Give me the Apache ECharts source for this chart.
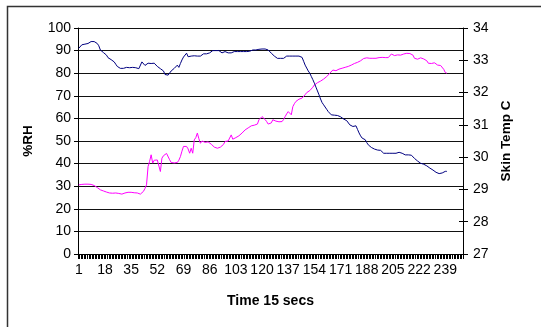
<!DOCTYPE html>
<html>
<head>
<meta charset="utf-8">
<script src="https://cdn.jsdelivr.net/npm/echarts@6/dist/echarts.min.js"></script>
<style>html,body{margin:0;padding:0;background:#fff}#c{width:541px;height:327px}</style>
</head>
<body>
<div id="c"></div>
<script>
// Category labels: time steps 1..250
const categories = Array.from({length: 250}, (_, i) => String(i + 1));
const rhTicks = [0, 10, 20, 30, 40, 50, 60, 70, 80, 90, 100];
const tempTicks = [27, 28, 29, 30, 31, 32, 33, 34];

// %RH (magenta, left axis)
const rhValues = [
30.6,30.4,30.8,30.9,30.9,31.0,30.9,31.0,30.8,30.7,
30.3,29.9,29.4,29.0,28.4,28.1,27.9,27.6,27.4,27.2,
27.0,26.7,26.9,27.1,27.0,27.0,26.8,26.6,26.5,26.6,
27.0,27.7,27.3,27.2,27.3,27.2,27.1,27.3,27.0,26.9,
26.5,27.0,27.7,29.0,30.6,38.7,41.0,43.9,40.2,41.5,
41.4,41.6,41.7,36.5,42.4,43.5,44.3,44.5,44.6,41.7,
40.5,39.9,40.3,40.8,40.5,41.5,43.1,45.5,47.6,47.8,
47.6,46.5,44.6,46.8,44.6,50.5,51.5,53.5,51.0,49.0,
50.0,50.2,49.4,48.7,49.6,49.3,48.6,47.9,47.3,47.0,
46.8,47.2,47.3,47.6,48.5,49.8,49.8,50.0,49.6,52.7,
50.8,51.2,51.5,52.0,52.3,52.7,53.5,54.2,54.9,55.6,
55.8,56.2,56.7,56.8,57.0,57.1,57.5,59.4,60.0,60.8,
60.2,59.5,58.6,57.5,56.7,58.0,59.4,59.0,58.8,58.2,
58.5,58.6,58.6,59.5,60.8,62.0,63.0,62.5,61.6,65.2,
66.5,67.5,68.2,68.5,68.3,69.0,69.7,70.5,71.4,72.0,
72.3,72.6,73.8,74.8,75.3,75.8,76.0,76.5,77.0,77.4,
78.0,78.5,79.2,80.0,80.8,81.4,81.3,81.1,81.6,81.8,
82.0,82.2,82.4,82.6,82.8,83.0,83.2,83.6,84.0,84.3,
84.4,84.8,85.2,85.5,85.9,86.5,87.0,86.8,86.7,86.6,
86.8,86.6,86.7,86.6,86.8,86.9,86.7,87.0,87.0,86.9,
87.2,86.9,87.5,88.5,88.2,87.8,88.0,88.1,88.3,88.0,
88.2,88.5,88.4,88.8,89.1,88.7,89.2,88.0,86.6,86.4,
86.2,86.5,86.8,87.0,86.3,85.9,85.5,84.4,84.9,84.3,
84.1,84.6,83.9,83.6,84.0,83.4,82.6,81.7,80.3,80.0
];

// Skin temperature in C (navy, right axis)
const tempValues = [
33.37,33.42,33.48,33.52,33.50,33.54,33.52,33.55,33.58,33.62,
33.58,33.60,33.52,33.45,33.32,33.30,33.24,33.18,33.16,33.08,
33.02,33.02,32.98,32.95,32.88,32.81,32.80,32.75,32.76,32.75,
32.76,32.78,32.78,32.77,32.78,32.78,32.76,32.77,32.75,32.74,
32.80,32.95,32.92,32.84,32.88,32.91,32.91,32.90,32.91,32.91,
32.86,32.81,32.80,32.74,32.72,32.67,32.56,32.54,32.54,32.56,
32.67,32.70,32.75,32.80,32.85,32.78,32.90,33.01,33.10,33.16,
33.22,33.11,33.13,33.13,33.13,33.14,33.13,33.13,33.15,33.13,
33.18,33.20,33.19,33.20,33.22,33.23,33.25,33.30,33.30,33.30,
33.29,33.30,33.26,33.23,33.25,33.27,33.30,33.23,33.25,33.23,
33.26,33.27,33.25,33.27,33.28,33.27,33.26,33.27,33.28,33.27,
33.27,33.28,33.30,33.32,33.30,33.32,33.33,33.34,33.33,33.35,
33.33,33.35,33.37,33.32,33.27,33.22,33.16,33.13,33.10,33.06,
33.06,33.06,33.06,33.06,33.07,33.13,33.13,33.13,33.13,33.13,
33.13,33.13,33.13,33.13,33.11,33.09,32.97,32.85,32.76,32.67,
32.60,32.50,32.40,32.29,32.17,32.05,31.93,31.80,31.69,31.62,
31.56,31.48,31.41,31.35,31.31,31.30,31.30,31.30,31.29,31.30,
31.25,31.20,31.18,31.15,31.13,31.07,31.00,30.97,30.95,30.96,
30.97,30.86,30.75,30.66,30.59,30.56,30.54,30.45,30.38,30.33,
30.30,30.26,30.25,30.22,30.22,30.23,30.21,30.16,30.12,30.10,
30.12,30.12,30.12,30.12,30.12,30.11,30.12,30.12,30.15,30.12,
30.12,30.08,30.07,30.07,30.07,30.07,30.06,30.02,29.96,29.92,
29.88,29.85,29.81,29.81,29.78,29.77,29.73,29.70,29.66,29.63,
29.60,29.56,29.53,29.51,29.49,29.49,29.51,29.55,29.56,29.56
];

const FONT = 'Liberation Sans, Arial, sans-serif';
const chart = echarts.init(document.getElementById('c'), null, {renderer: 'canvas'});
chart.setOption({
  animation: false,
  backgroundColor: '#fff',
  graphic: [{
    type: 'rect', left: 5, top: 4, silent: true,
    shape: {x: 0, y: 0, width: 560, height: 340},
    style: {fill: 'none', stroke: '#333', lineWidth: 1.5}
  }],
  grid: {left: 78, right: 78, top: 28, bottom: 73, containLabel: false},
  xAxis: {
    type: 'category',
    data: categories,
    boundaryGap: true,
    name: 'Time 15 secs',
    nameLocation: 'middle',
    nameGap: 40,
    nameTextStyle: {fontFamily: FONT, fontSize: 14, fontWeight: 'bold', color: '#000'},
    axisLine: {lineStyle: {color: '#000', width: 1}},
    axisTick: {show: true, interval: 0, length: 5, lineStyle: {color: '#000', width: 1}},
    axisLabel: {interval: 16, fontFamily: FONT, fontSize: 14, color: '#000', margin: 9},
    splitLine: {show: false}
  },
  yAxis: [{
    type: 'value', min: rhTicks[0], max: rhTicks[rhTicks.length - 1], interval: 10,
    position: 'left',
    name: '%RH', nameLocation: 'middle', nameGap: 43, nameRotate: 90,
    nameTextStyle: {fontFamily: FONT, fontSize: 13.5, fontWeight: 'bold', color: '#000'},
    axisLine: {show: true, lineStyle: {color: '#000', width: 1}},
    axisTick: {show: true, length: 4, lineStyle: {color: '#000'}},
    axisLabel: {fontFamily: FONT, fontSize: 14, color: '#000', margin: 7},
    splitLine: {show: true, lineStyle: {color: '#111', width: 1}}
  }, {
    type: 'value', min: tempTicks[0], max: tempTicks[tempTicks.length - 1], interval: 1,
    position: 'right',
    name: 'Skin Temp C', nameLocation: 'middle', nameGap: 31, nameRotate: 90,
    nameTextStyle: {fontFamily: FONT, fontSize: 13.5, fontWeight: 'bold', color: '#000'},
    axisLine: {show: true, lineStyle: {color: '#000', width: 1}},
    axisTick: {show: true, length: 5, lineStyle: {color: '#000'}},
    axisLabel: {fontFamily: FONT, fontSize: 14, color: '#000', margin: 10},
    splitLine: {show: false}
  }, {
    type: 'value', min: tempTicks[0], max: tempTicks[tempTicks.length - 1], interval: 1,
    position: 'right',
    axisLine: {show: false},
    axisTick: {show: true, inside: true, length: 4, lineStyle: {color: '#000'}},
    axisLabel: {show: false},
    splitLine: {show: false}
  }],
  series: [{
    name: '%RH', type: 'line', yAxisIndex: 0, data: rhValues,
    showSymbol: false, symbol: 'none',
    lineStyle: {color: '#FF00FF', width: 1}
  }, {
    name: 'Skin Temp C', type: 'line', yAxisIndex: 1, data: tempValues,
    showSymbol: false, symbol: 'none',
    lineStyle: {color: '#000080', width: 1}
  }]
});
</script>
</body>
</html>
